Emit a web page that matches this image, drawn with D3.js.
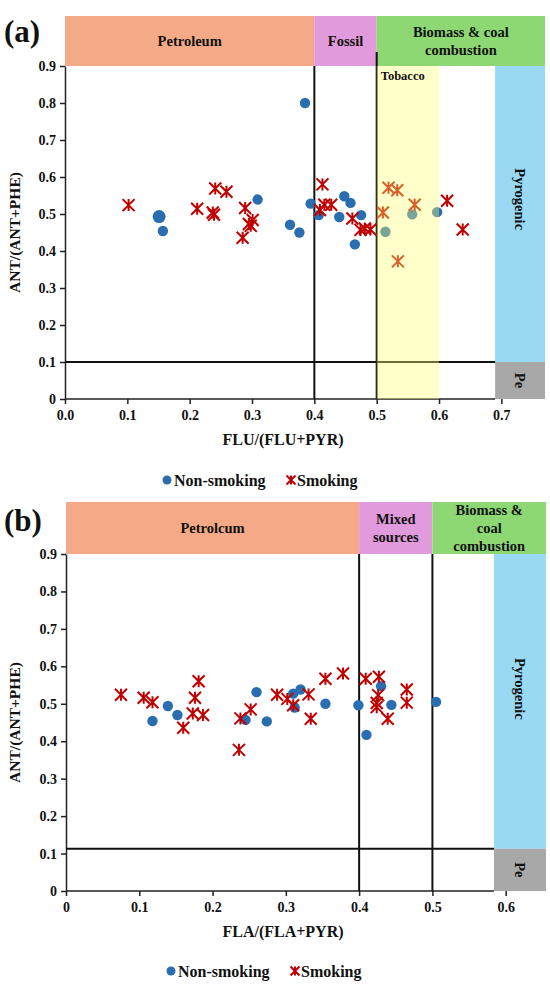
<!DOCTYPE html>
<html>
<head>
<meta charset="utf-8">
<script src="https://cdn.jsdelivr.net/npm/d3@7"></script>
<style>
  body { margin: 0; background: #fff; }
  text { font-family: "Liberation Serif", "Times New Roman", serif; font-weight: bold; fill: #111; }
</style>
</head>
<body>
<div id="chart"></div>
<script>
// (a) FLU/(FLU+PYR) vs ANT/(ANT+PHE)
const nonSmokingA = [
  [0.151, 0.493], [0.157, 0.454], [0.309, 0.539], [0.361, 0.471], [0.376, 0.450],
  [0.385, 0.800], [0.394, 0.528], [0.407, 0.497], [0.440, 0.492], [0.448, 0.548],
  [0.458, 0.530], [0.465, 0.418], [0.475, 0.497], [0.514, 0.452], [0.557, 0.499],
  [0.597, 0.505]
];
const smokingA = [
  [0.102, 0.524], [0.212, 0.514], [0.241, 0.569], [0.259, 0.560], [0.237, 0.504],
  [0.239, 0.498], [0.289, 0.516], [0.285, 0.436], [0.295, 0.473], [0.301, 0.484],
  [0.298, 0.468], [0.413, 0.580], [0.416, 0.525], [0.427, 0.525], [0.409, 0.511],
  [0.461, 0.488], [0.474, 0.457], [0.481, 0.461], [0.490, 0.458], [0.519, 0.571],
  [0.533, 0.564], [0.510, 0.504], [0.561, 0.525], [0.534, 0.372], [0.613, 0.536],
  [0.638, 0.458]
];
// (b) FLA/(FLA+PYR) vs ANT/(ANT+PHE)
const nonSmokingB = [
  [0.118, 0.454], [0.139, 0.494], [0.152, 0.470], [0.245, 0.457], [0.260, 0.531],
  [0.274, 0.453], [0.310, 0.527], [0.320, 0.538], [0.312, 0.490], [0.354, 0.500],
  [0.399, 0.496], [0.410, 0.417], [0.430, 0.547], [0.444, 0.497], [0.505, 0.505]
];
const smokingB = [
  [0.075, 0.524], [0.106, 0.516], [0.118, 0.504], [0.160, 0.436], [0.173, 0.474],
  [0.187, 0.470], [0.176, 0.516], [0.181, 0.560], [0.236, 0.377], [0.238, 0.461],
  [0.252, 0.485], [0.288, 0.524], [0.302, 0.513], [0.310, 0.496], [0.331, 0.525],
  [0.334, 0.460], [0.354, 0.567], [0.378, 0.581], [0.409, 0.567], [0.427, 0.572],
  [0.426, 0.523], [0.424, 0.502], [0.424, 0.491], [0.439, 0.460], [0.465, 0.538],
  [0.465, 0.503]
];

const yTicks = [0, 0.1, 0.2, 0.3, 0.4, 0.5, 0.6, 0.7, 0.8, 0.9];
const yTickLabels = ["0", "0.1", "0.2", "0.3", "0.4", "0.5", "0.6", "0.7", "0.8", "0.9"];
const xTicksA = [0, 0.1, 0.2, 0.3, 0.4, 0.5, 0.6, 0.7];
const xTickLabelsA = ["0.0", "0.1", "0.2", "0.3", "0.4", "0.5", "0.6", "0.7"];
const xTicksB = [0, 0.1, 0.2, 0.3, 0.4, 0.5, 0.6];
const xTickLabelsB = ["0", "0.1", "0.2", "0.3", "0.4", "0.5", "0.6"];

const sourcesA = [
  { label: ["Petroleum"], from: 0, to: 0.4 },
  { label: ["Fossil"], from: 0.4, to: 0.5 },
  { label: ["Biomass & coal", "combustion"], from: 0.5, to: 0.77 }
];
const sourcesB = [
  { label: ["Petrolcum"], from: 0, to: 0.4 },
  { label: ["Mixed", "sources"], from: 0.4, to: 0.5 },
  { label: ["Biomass &", "coal", "combustion"], from: 0.5, to: 0.655 }
];
const tobaccoA = [0.5, 0.6];
const splitsX = [0.4, 0.5];
const pyroLimitA = 0.1, pyroLimitB = 0.113;
const pyroStartA = 0.69, pyroStartB = 0.584;
const legendItems = ["Non-smoking", "Smoking"];

const headerColors = ["#F4AA86", "#E19ADB", "#8DD873"];
const blue = "#2A6DB0", red = "#C00000";

const svg = d3.select("#chart").append("svg")
  .attr("width", 550)
  .attr("height", 984);

drawPanel({
  tag: "(a)", tagY: 42,
  left: 65, right: 545, top: 66, bottom: 399, headTop: 16,
  xMax: 0.77, xTicks: xTicksA, xLabels: xTickLabelsA, xTitle: "FLU/(FLU+PYR)",
  sources: sourcesA, pyroStart: pyroStartA, pyroLimit: pyroLimitA,
  tobacco: tobaccoA, topExtend: 52,
  nonSmoking: nonSmokingA, smoking: smokingA, bigFirst: true,
  legendY: 480, legendX: 167
});

drawPanel({
  tag: "(b)", tagY: 531,
  left: 66, right: 546, top: 554, bottom: 891, headTop: 502,
  xMax: 0.655, xTicks: xTicksB, xLabels: xTickLabelsB, xTitle: "FLA/(FLA+PYR)",
  sources: sourcesB, pyroStart: pyroStartB, pyroLimit: pyroLimitB,
  tobacco: null, topExtend: null,
  nonSmoking: nonSmokingB, smoking: smokingB, bigFirst: false,
  legendY: 971, legendX: 171
});

function starMark(sel, s) {
  sel.append("path")
    .attr("d", `M${-s},${-s}L${s},${s}M${-s},${s}L${s},${-s}M0,${-s}L0,${s}`)
    .attr("stroke", red)
    .attr("stroke-width", 2)
    .attr("fill", "none");
}

function drawPanel(p) {
  const x = d3.scaleLinear().domain([0, p.xMax]).range([p.left, p.right]);
  const y = d3.scaleLinear().domain([0, 0.9]).range([p.bottom, p.top]);
  const g = svg.append("g");

  // panel tag
  g.append("text").attr("x", 4).attr("y", p.tagY)
    .style("font-size", "31px").text(p.tag);

  // header boxes
  p.sources.forEach((s, i) => {
    g.append("rect")
      .attr("x", x(s.from)).attr("y", p.headTop)
      .attr("width", x(s.to) - x(s.from)).attr("height", y(0.9) - p.headTop)
      .attr("fill", headerColors[i]);
    const cy = (p.headTop + y(0.9)) / 2;
    const lh = 18;
    s.label.forEach((t, j) => {
      g.append("text")
        .attr("x", (x(s.from) + x(s.to)) / 2)
        .attr("y", cy + (j - (s.label.length - 1) / 2) * lh)
        .attr("dy", "0.35em")
        .attr("text-anchor", "middle")
        .style("font-size", "14.5px")
        .text(t);
    });
  });

  // pyrogenic / Pe bands
  g.append("rect")
    .attr("x", x(p.pyroStart)).attr("y", y(0.9))
    .attr("width", x(p.xMax) - x(p.pyroStart)).attr("height", y(p.pyroLimit) - y(0.9))
    .attr("fill", "#99D9F4");
  g.append("rect")
    .attr("x", x(p.pyroStart)).attr("y", y(p.pyroLimit))
    .attr("width", x(p.xMax) - x(p.pyroStart)).attr("height", y(0) - y(p.pyroLimit))
    .attr("fill", "#A8A8A8");
  const bx = (x(p.pyroStart) + x(p.xMax)) / 2;
  g.append("text")
    .attr("transform", `translate(${bx},${y(0.54)}) rotate(90)`)
    .attr("text-anchor", "middle").attr("dy", "0.35em")
    .style("font-size", "14.5px").text("Pyrogenic");
  g.append("text")
    .attr("transform", `translate(${bx},${y(p.pyroLimit / 2)}) rotate(90)`)
    .attr("text-anchor", "middle").attr("dy", "0.35em")
    .style("font-size", "14.5px").text("Pe");

  // axes
  const yAxis = d3.axisLeft(y).tickValues(yTicks)
    .tickFormat((d, i) => yTickLabels[i]).tickSize(5).tickSizeOuter(0);
  const ya = g.append("g").attr("transform", `translate(${p.left},0)`).call(yAxis);
  const xAxis = d3.axisBottom(x).tickValues(p.xTicks)
    .tickFormat((d, i) => p.xLabels[i]).tickSize(5).tickSizeOuter(0);
  const xa = g.append("g").attr("transform", `translate(0,${p.bottom})`).call(xAxis);
  [ya, xa].forEach(a => {
    a.selectAll("path, line").attr("stroke", "#222").attr("stroke-width", 1.5);
    a.selectAll("text").style("font-size", "14px").attr("fill", "#111");
  });
  ya.selectAll("text").attr("x", -9);
  xa.selectAll("text").attr("y", 11);
  xa.select(".domain").attr("d", `M${p.left},0H${x(p.pyroStart)}`);

  // threshold lines
  g.append("line")
    .attr("x1", x(0)).attr("x2", x(p.pyroStart))
    .attr("y1", y(p.pyroLimit)).attr("y2", y(p.pyroLimit))
    .attr("stroke", "#111").attr("stroke-width", 2);
  splitsX.forEach((v, i) => {
    const top = (i === 1 && p.topExtend) ? p.topExtend : y(0.9);
    g.append("line")
      .attr("x1", x(v)).attr("x2", x(v))
      .attr("y1", top).attr("y2", y(0))
      .attr("stroke", "#111").attr("stroke-width", 2);
  });

  // points
  g.selectAll(null).data(p.nonSmoking).join("circle")
    .attr("cx", d => x(d[0])).attr("cy", d => y(d[1]))
    .attr("r", (d, i) => (p.bigFirst && i === 0) ? 6.5 : 5.2)
    .attr("fill", blue);
  g.selectAll(null).data(p.smoking).join("g")
    .attr("transform", d => `translate(${x(d[0])},${y(d[1])})`)
    .each(function () { starMark(d3.select(this), 6); });

  // tobacco band drawn over points (semi transparent)
  if (p.tobacco) {
    g.append("rect")
      .attr("x", x(p.tobacco[0])).attr("y", y(0.9))
      .attr("width", x(p.tobacco[1]) - x(p.tobacco[0])).attr("height", y(0) - y(0.9))
      .attr("fill", "#FFFF70").attr("opacity", 0.38);
    g.append("text")
      .attr("x", x(p.tobacco[0]) + 4).attr("y", y(0.9) + 14)
      .style("font-size", "12.5px").text("Tobacco");
  }

  // axis titles
  g.append("text")
    .attr("transform", `translate(20,${(p.top + p.bottom) / 2}) rotate(-90)`)
    .attr("text-anchor", "middle")
    .style("font-size", "15.5px").text("ANT/(ANT+PHE)");
  g.append("text")
    .attr("x", 283)
    .attr("y", p.bottom + 46)
    .attr("text-anchor", "middle")
    .style("font-size", "16px").text(p.xTitle);

  // legend
  const lg = g.append("g").attr("transform", `translate(${p.legendX},${p.legendY})`);
  lg.append("circle").attr("r", 4.5).attr("fill", blue);
  lg.append("text").attr("x", 7).attr("dy", "0.35em")
    .style("font-size", "16px").text(legendItems[0]);
  const sg = lg.append("g").attr("transform", "translate(124,0)");
  starMark(sg, 4.5);
  lg.append("text").attr("x", 130).attr("dy", "0.35em")
    .style("font-size", "16px").text(legendItems[1]);
}
</script>
</body>
</html>
